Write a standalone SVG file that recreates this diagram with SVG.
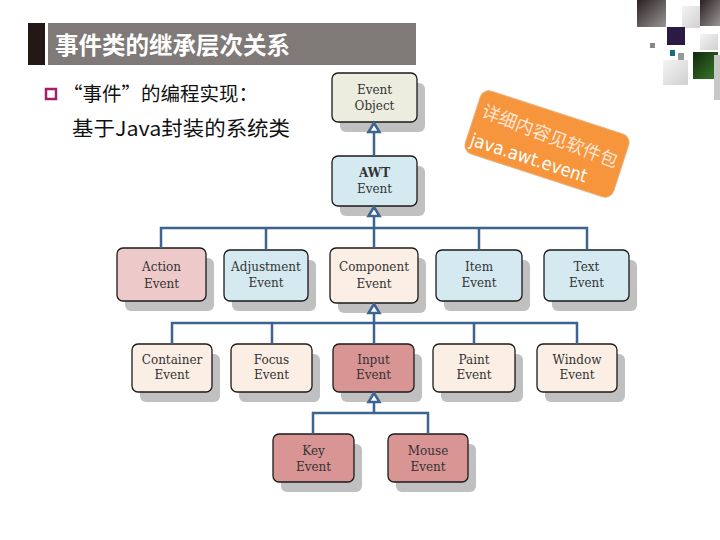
<svg xmlns="http://www.w3.org/2000/svg" width="720" height="540" viewBox="0 0 720 540">
<defs>
<style>
.shadow{fill:#c0c0c0}
.box{stroke:#1a1a1a;stroke-width:1.3}
.lbl{font-family:"DejaVu Serif","Liberation Serif",serif;font-size:12px;fill:#333;text-anchor:middle}
.c-obj{fill:#ecedde}
.c-blue{fill:#d5e9f0}
.c-pink{fill:#edc9c9}
.c-peach{fill:#fbeee4}
.c-rose{fill:#d99494}
.conn{fill:none;stroke:#3d6490;stroke-width:2.5}
.tri{fill:#fff;stroke:#3d6490;stroke-width:2.5;stroke-linejoin:miter}
.cjk{font-family:"Noto Sans CJK SC","Noto Sans",sans-serif}
</style>
<linearGradient id="dk" x1="0" y1="0" x2="1" y2="1"><stop offset="0" stop-color="#2a2222"/><stop offset="1" stop-color="#9a9494"/></linearGradient>
<linearGradient id="gr" x1="0" y1="0" x2="1" y2="1"><stop offset="0" stop-color="#0f2a0c"/><stop offset="1" stop-color="#3b7a2a"/></linearGradient>
<linearGradient id="lg" x1="0" y1="0" x2="1" y2="1"><stop offset="0" stop-color="#f4f4f4"/><stop offset="1" stop-color="#d0d0d0"/></linearGradient>
</defs>
<rect width="720" height="540" fill="#fff"/>

<!-- decoration top right -->
<g id="decoration">
<rect x="637" y="0" width="29" height="27" fill="url(#dk)"/>
<rect x="682" y="6" width="18" height="22" fill="url(#lg)"/>
<rect x="700" y="0" width="20" height="26" fill="url(#dk)"/>
<rect x="667" y="27" width="18" height="18" fill="#2a1a44"/>
<rect x="650" y="43" width="5" height="5" fill="#888"/>
<rect x="670" y="50" width="5" height="6" fill="#1a6a80"/>
<rect x="678" y="53" width="6" height="7" fill="#999"/>
<rect x="700" y="34" width="18" height="16" fill="url(#lg)"/>
<rect x="693" y="52" width="25" height="27" fill="url(#gr)"/>
<rect x="663" y="60" width="25" height="25" fill="url(#lg)"/>
<rect x="714" y="55" width="6" height="45" fill="#c8c8c8"/>
</g>

<!-- title -->
<g id="title">
<rect x="28" y="23" width="17" height="42" fill="#231815"/>
<rect x="48" y="23" width="368" height="42" fill="#7f7a78"/>
<text x="55" y="54" class="cjk" font-size="23.5" font-weight="bold" fill="#fff">事件类的继承层次关系</text>
</g>

<!-- bullet text -->
<g id="bullet">
<rect x="46" y="89" width="10" height="10" fill="#fff" stroke="#a0206a" stroke-width="2.5"/>
<text x="63" y="101" class="cjk" font-size="19.5" fill="#111" textLength="195" lengthAdjust="spacingAndGlyphs">“事件”的编程实现：</text>
<text x="72" y="136" class="cjk" font-size="20.5" fill="#111" textLength="218" lengthAdjust="spacingAndGlyphs">基于Java封装的系统类</text>
</g>

<!-- orange note -->
<g id="note" transform="translate(547,144) rotate(18)">
<rect x="-78" y="-33" width="156" height="66" rx="9" fill="#f7953c" stroke="#e9b07a" stroke-width="1"/>
<text x="-72" y="-2" class="cjk" font-size="18" fill="#fde6d6" transform="rotate(3)">详细内容见软件包</text>
<text x="-74" y="25" font-family="'DejaVu Sans',sans-serif" font-size="18" fill="#fff" textLength="122" lengthAdjust="spacingAndGlyphs">java.awt.event</text>
</g>

<g id="EventObject">
<rect class="shadow" x="340" y="83" width="85" height="49" rx="6"/>
<rect class="box c-obj" x="332" y="73" width="85" height="49" rx="6"/>
<text class="lbl" x="374.5" y="94">Event</text><text class="lbl" x="374.5" y="110">Object</text>
</g>
<g id="AWTEvent">
<rect class="shadow" x="340" y="166" width="85" height="50" rx="6"/>
<rect class="box c-blue" x="332" y="156" width="85" height="50" rx="6"/>
<text class="lbl" x="374.5" y="177" font-weight="bold">AWT</text><text class="lbl" x="374.5" y="193">Event</text>
</g>

<g id="ActionEvent">
<rect class="shadow" x="125" y="258" width="89" height="53" rx="6"/>
<rect class="box c-pink" x="117" y="248" width="89" height="53" rx="6"/>
<text class="lbl" x="161.5" y="271">Action</text><text class="lbl" x="161.5" y="288">Event</text>
</g>
<g id="AdjustmentEvent">
<rect class="shadow" x="232" y="260" width="84" height="51" rx="6"/>
<rect class="box c-blue" x="224" y="250" width="84" height="51" rx="6"/>
<text class="lbl" x="266" y="271">Adjustment</text><text class="lbl" x="266" y="287">Event</text>
</g>
<g id="ComponentEvent">
<rect class="shadow" x="338" y="258" width="88" height="55" rx="6"/>
<rect class="box c-peach" x="330" y="248" width="88" height="55" rx="6"/>
<text class="lbl" x="374" y="271">Component</text><text class="lbl" x="374" y="288">Event</text>
</g>
<g id="ItemEvent">
<rect class="shadow" x="444" y="260" width="86" height="51" rx="6"/>
<rect class="box c-blue" x="436" y="250" width="86" height="51" rx="6"/>
<text class="lbl" x="479" y="271">Item</text><text class="lbl" x="479" y="287">Event</text>
</g>
<g id="TextEvent">
<rect class="shadow" x="552" y="260" width="85" height="51" rx="6"/>
<rect class="box c-blue" x="544" y="250" width="85" height="51" rx="6"/>
<text class="lbl" x="586.5" y="271">Text</text><text class="lbl" x="586.5" y="287">Event</text>
</g>

<g id="ContainerEvent">
<rect class="shadow" x="140" y="354" width="80" height="48" rx="6"/>
<rect class="box c-peach" x="132" y="344" width="80" height="48" rx="6"/>
<text class="lbl" x="172" y="364">Container</text><text class="lbl" x="172" y="379">Event</text>
</g>
<g id="FocusEvent">
<rect class="shadow" x="239" y="354" width="81" height="48" rx="6"/>
<rect class="box c-peach" x="231" y="344" width="81" height="48" rx="6"/>
<text class="lbl" x="271.5" y="364">Focus</text><text class="lbl" x="271.5" y="379">Event</text>
</g>
<g id="InputEvent">
<rect class="shadow" x="341" y="354" width="81" height="48" rx="6"/>
<rect class="box c-rose" x="333" y="344" width="81" height="48" rx="6"/>
<text class="lbl" x="373.5" y="364">Input</text><text class="lbl" x="373.5" y="379">Event</text>
</g>
<g id="PaintEvent">
<rect class="shadow" x="441" y="354" width="82" height="48" rx="6"/>
<rect class="box c-peach" x="433" y="344" width="82" height="48" rx="6"/>
<text class="lbl" x="474" y="364">Paint</text><text class="lbl" x="474" y="379">Event</text>
</g>
<g id="WindowEvent">
<rect class="shadow" x="545" y="354" width="80" height="48" rx="6"/>
<rect class="box c-peach" x="537" y="344" width="80" height="48" rx="6"/>
<text class="lbl" x="577" y="364">Window</text><text class="lbl" x="577" y="379">Event</text>
</g>

<g id="KeyEvent">
<rect class="shadow" x="281" y="444" width="81" height="48" rx="6"/>
<rect class="box c-rose" x="273" y="434" width="81" height="48" rx="6"/>
<text class="lbl" x="313.5" y="455">Key</text><text class="lbl" x="313.5" y="471">Event</text>
</g>
<g id="MouseEvent">
<rect class="shadow" x="396" y="444" width="80" height="48" rx="6"/>
<rect class="box c-rose" x="388" y="434" width="80" height="48" rx="6"/>
<text class="lbl" x="428" y="455">Mouse</text><text class="lbl" x="428" y="471">Event</text>
</g>

<!-- connectors -->
<g id="connectors">
<path class="conn" d="M374 156V132"/>
<path class="conn" d="M374 216V248M161 248V228H587V250M266 228V250M479 228V250"/>
<path class="conn" d="M374 313V344M172 344V323H577V344M272 323V344M474 323V344"/>
<path class="conn" d="M374 402V413M313 434V413H428V434"/>
<polygon class="tri" points="374,123 368.5,132 379.5,132"/>
<polygon class="tri" points="374,207 368.5,216 379.5,216"/>
<polygon class="tri" points="374,304 368.5,313 379.5,313"/>
<polygon class="tri" points="374,393 368.5,402 379.5,402"/>
</g>
</svg>
